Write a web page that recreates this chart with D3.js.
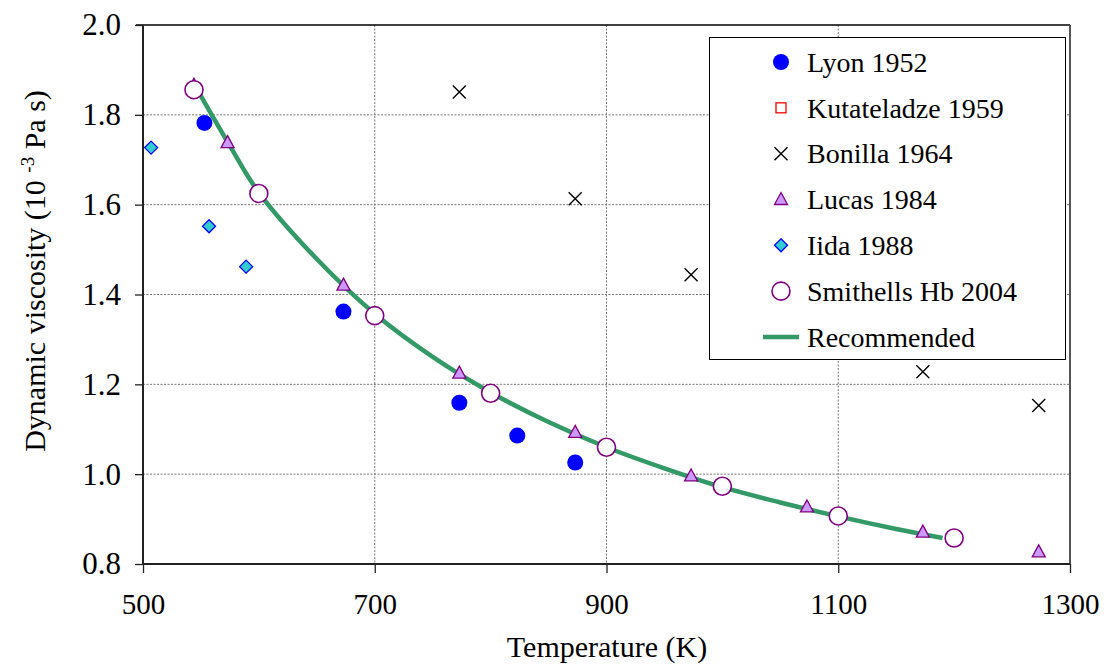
<!DOCTYPE html>
<html><head><meta charset="utf-8">
<script src="https://cdn.jsdelivr.net/npm/d3@7"></script>
<style>
html,body{margin:0;padding:0;background:#fff;}
svg text{font-family:"Liberation Serif","Times New Roman",Times,serif;fill:#000;}
</style></head>
<body><svg id="c" width="1107" height="664"></svg>
<script>
// ---- data ----
const xTicks = [500, 700, 900, 1100, 1300];
const yTicks = [0.8, 1.0, 1.2, 1.4, 1.6, 1.8, 2.0];
const lyonT = [553, 673, 773, 823, 873];
const lyonV = [1.782, 1.362, 1.159, 1.086, 1.026];
const kutaT = [];
const kutaV = [];
const bonillaT = [773, 873, 973, 1173, 1273];
const bonillaV = [1.851, 1.613, 1.444, 1.228, 1.153];
const lucasT = [544, 573, 673, 773, 873, 973, 1073, 1173, 1273];
const lucasV = [1.866, 1.738, 1.421, 1.225, 1.093, 0.996, 0.927, 0.871, 0.827];
const iidaT = [507, 557, 589];
const iidaV = [1.727, 1.552, 1.462];
const smithT = [544, 600, 700, 800, 900, 1000, 1100, 1200];
const smithV = [1.856, 1.625, 1.353, 1.180, 1.060, 0.973, 0.907, 0.858];
const recT = [544, 575, 600, 650, 700, 750, 800, 850, 900, 950, 1000, 1050, 1100, 1150, 1190];
const recV = [1.869, 1.731, 1.627, 1.479, 1.357, 1.261, 1.182, 1.116, 1.060, 1.013, 0.971, 0.937, 0.906, 0.878, 0.858];
const legendNames = ["Lyon 1952", "Kutateladze 1959", "Bonilla 1964", "Lucas 1984", "Iida 1988", "Smithells Hb 2004", "Recommended"];

const FONT = '"Liberation Serif","Times New Roman",Times,serif';
const svg = d3.select("#c");
const L = 143, R = 1070, T = 25, B = 564;
const x = d3.scaleLinear().domain([500, 1300]).range([L, R]);
const y = d3.scaleLinear().domain([0.8, 2.0]).range([B, T]);

// gridlines
const g = svg.append("g");
g.selectAll("line.vg").data(xTicks.filter(d => d > 500 && d < 1300)).enter().append("line")
  .attr("x1", d => x(d)).attr("x2", d => x(d)).attr("y1", T).attr("y2", B)
  .attr("stroke", "#777").attr("stroke-width", 1).attr("stroke-dasharray", "2,1.5");
g.selectAll("line.hg").data(yTicks.filter(d => d > 0.8 && d < 2.0)).enter().append("line")
  .attr("x1", L).attr("x2", R).attr("y1", d => y(d)).attr("y2", d => y(d))
  .attr("stroke", "#777").attr("stroke-width", 1).attr("stroke-dasharray", "2,1.5");

// frame: top & right
svg.append("line").attr("x1", L - 7).attr("x2", R).attr("y1", T).attr("y2", T).attr("stroke", "#000").attr("stroke-width", 1.3);
svg.append("line").attr("x1", R).attr("x2", R).attr("y1", T).attr("y2", B).attr("stroke", "#555").attr("stroke-width", 2);

// axes
const xAxis = d3.axisBottom(x).tickValues(xTicks).tickSize(9).tickPadding(26).tickFormat(d3.format("d"));
const yAxis = d3.axisLeft(y).tickValues(yTicks).tickSize(8).tickPadding(14).tickFormat(d3.format(".1f"));
const gx = svg.append("g").attr("transform", `translate(0,${B})`).call(xAxis);
const gy = svg.append("g").attr("transform", `translate(${L},0)`).call(yAxis);
[gx, gy].forEach(a => {
  a.attr("font-family", FONT);
  a.select(".domain").attr("stroke", "#222").attr("stroke-width", 2);
  a.selectAll(".tick line").attr("stroke", "#222").attr("stroke-width", 1.3);
  a.selectAll(".tick text").attr("font-family", FONT).attr("fill", "#000");
});
gx.selectAll(".tick text").style("font-size", "29px").attr("dy", "0.5em");
gy.selectAll(".tick text").style("font-size", "31px");
gx.select(".domain").attr("d", `M${L},0H${R}`);
gy.select(".domain").attr("d", `M0,${B}V${T}`);

// axis titles
svg.append("text").attr("x", 607).attr("y", 657).attr("text-anchor", "middle")
  .attr("font-family", FONT).style("font-size", "30px").text("Temperature (K)");
const yt = svg.append("text").attr("transform", `translate(45,271) rotate(-90)`)
  .attr("text-anchor", "middle").attr("font-family", FONT).style("font-size", "30px");
yt.append("tspan").text("Dynamic viscosity (10 ");
yt.append("tspan").attr("dy", -11).style("font-size", "19px").text("-3");
yt.append("tspan").attr("dy", 11).text(" Pa s)");

// recommended curve
const line = d3.line().x(d => x(d[0])).y(d => y(d[1])).curve(d3.curveCatmullRom.alpha(0.5));
svg.append("path").datum(d3.zip(recT, recV)).attr("d", line)
  .attr("fill", "none").attr("stroke", "#339966").attr("stroke-width", 4.5);

// marker drawers
function drawLyon(sel) { sel.append("circle").attr("r", 8).attr("fill", "#0000ff"); }
function drawKuta(sel) { sel.append("rect").attr("x", -5).attr("y", -5).attr("width", 10).attr("height", 10).attr("fill", "#fff").attr("stroke", "#ff0000").attr("stroke-width", 1.3); }
function drawBon(sel) { sel.append("path").attr("d", "M-6.5,-6.5L6.5,6.5M-6.5,6.5L6.5,-6.5").attr("stroke", "#000").attr("stroke-width", 1.4).attr("fill", "none"); }
function drawLucas(sel) { sel.append("path").attr("d", "M0,-7L6.5,5L-6.5,5Z").attr("fill", "#cc99ff").attr("stroke", "#800080").attr("stroke-width", 1.3); }
function drawIida(sel) { sel.append("path").attr("d", "M0,-6.5L6.5,0L0,6.5L-6.5,0Z").attr("fill", "#33cccc").attr("stroke", "#0000ff").attr("stroke-width", 1.3); }
function drawSmith(sel) { sel.append("circle").attr("r", 9).attr("fill", "#fff").attr("stroke", "#800080").attr("stroke-width", 1.6); }

function series(T_, V_, drawer) {
  const s = svg.append("g").selectAll("g").data(d3.zip(T_, V_)).enter().append("g")
    .attr("transform", d => `translate(${x(d[0])},${y(d[1])})`);
  drawer(s);
}
series(lyonT, lyonV, drawLyon);
series(kutaT, kutaV, drawKuta);
series(bonillaT, bonillaV, drawBon);
series(lucasT, lucasV, drawLucas);
series(iidaT, iidaV, drawIida);
series(smithT, smithV, drawSmith);

// legend
const lg = svg.append("g");
lg.append("rect").attr("x", 709.5).attr("y", 37.5).attr("width", 356).attr("height", 322)
  .attr("fill", "#fff").attr("stroke", "#000").attr("stroke-width", 1);
const rowY = d3.scalePoint().domain(legendNames).range([62, 337]);
const drawers = [drawLyon, drawKuta, drawBon, drawLucas, drawIida, drawSmith];
legendNames.forEach((name, i) => {
  const row = lg.append("g").attr("transform", `translate(781,${rowY(name)})`);
  if (i < 6) drawers[i](row);
  else row.append("line").attr("x1", -18).attr("x2", 18).attr("stroke", "#339966").attr("stroke-width", 4.5);
  lg.append("text").attr("x", 807).attr("y", rowY(name)).attr("dy", "0.35em")
    .attr("font-family", FONT).style("font-size", "28px").text(name);
});
</script></body></html>
